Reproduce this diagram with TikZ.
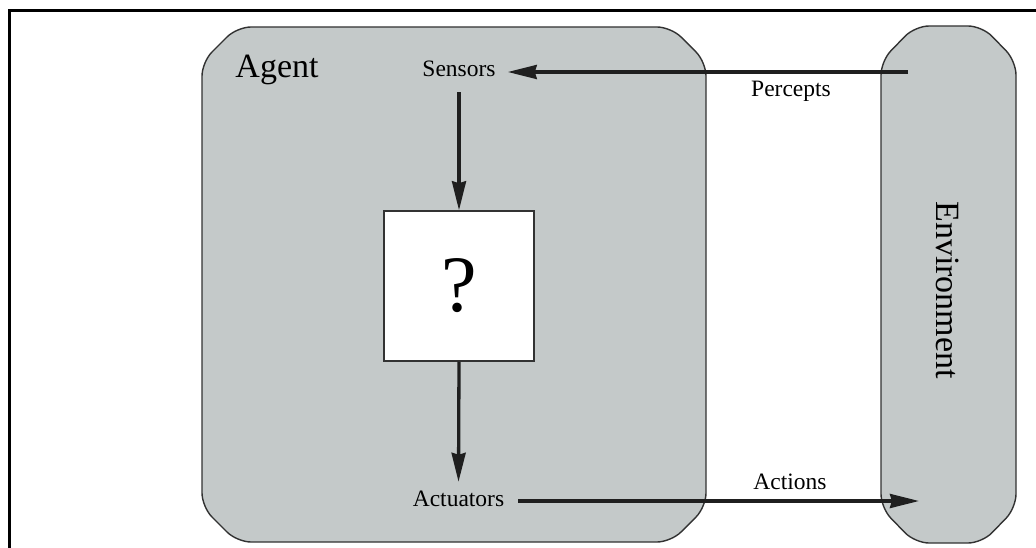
\documentclass[tikz,border=0pt]{standalone}
\usepackage{fontspec}
\setmainfont{Liberation Serif}
\usetikzlibrary{arrows.meta}
\definecolor{panel}{RGB}{196,201,201}
\definecolor{edge}{RGB}{50,50,50}
\tikzset{
  x=1pt, y=-1pt,
  panelshape/.style={fill=panel, draw=edge, line width=1.4pt, rounded corners=14pt},
  lbl/.style={inner sep=0pt, anchor=base, font=\fontsize{23.5}{26}\selectfont, text height=10pt, text depth=0pt},
  big/.style={font=\fontsize{34}{38}\selectfont},
  arr/.style={line width=3.3pt, draw=black!88, -{Stealth[length=29pt,width=14pt,inset=2pt]}},
}
\begin{document}
\begin{tikzpicture}
\useasboundingbox (0,0) rectangle (1036,548);
% outer frame
\draw[line width=3pt] (9.5,548) -- (9.5,10.3) -- (1036,10.3);
% agent panel
\draw[panelshape] (202,62) -- (237,27) -- (671,27) -- (706,62) -- (706,507) -- (671,542) -- (237,542) -- (202,507) -- cycle;
% environment panel
\draw[panelshape] (881,61) -- (915,26) -- (982,26) -- (1016,61) -- (1016,508) -- (982,543) -- (915,543) -- (881,508) -- cycle;
% texts
\node[big, inner sep=0pt, anchor=base] (agent) at (277,78) {Agent};
\node[big, inner sep=0pt, rotate=-90] (env) at (948,290) {Environment};
\node[lbl] (sensors) at (459,77) {Sensors};
\node[lbl] (actuators) at (458.5,506) {Actuators};
\node[lbl] (percepts) at (791,97) {Percepts};
\node[lbl] (actions) at (790,489) {Actions};
\node[draw=edge, line width=1.5pt, fill=white, minimum size=150pt, inner sep=0pt,
      font=\fontsize{80}{88}\selectfont] (box) at (459,286) {?};
% connectors
\coordinate (pstart) at (908,72);
\coordinate (atip) at (919,501);
\draw[arr] (pstart) -- ([xshift=12pt]sensors.east);
\draw[arr] ([yshift=-15pt]sensors.south) -- (box.north);
\draw[arr] (box.south) -- ([yshift=14pt]actuators.north);
\draw[arr] ([xshift=14pt]actuators.east) -- (atip);
\end{tikzpicture}
\end{document}
